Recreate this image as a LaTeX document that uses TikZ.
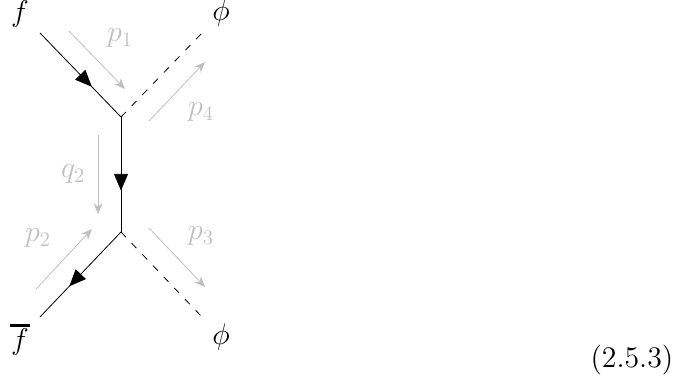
\RequirePackage{fix-cm}
\documentclass[tikz,border=0pt]{standalone}
\usepackage{amsmath}
\usetikzlibrary{decorations.markings,arrows.meta}
\DeclareMathSizes{22.5}{22.5}{15.5}{11}
\font\eqfont=cmr12 at 22.4pt
\tikzset{
 fermion/.style={draw=black,line width=0.6pt,postaction={decorate},decoration={markings,mark=at position 0.64 with {\arrow{Triangle[length=12.5pt,width=10.5pt]}}}},
 scalar/.style={draw=black,line width=0.6pt,dash pattern=on 5.2pt off 6.4pt},
 mom/.style={draw=black!25,line width=0.6pt,-{Stealth[length=8pt,width=6.5pt,inset=2.5pt]}},
 lab/.style={inner sep=0pt,font=\fontsize{22.5}{26}\selectfont},
 glab/.style={inner sep=0pt,font=\fontsize{22.5}{26}\selectfont,text=black!25}
}
\begin{document}
\begin{tikzpicture}[x=0.75pt,y=-0.75pt]
\useasboundingbox (0,0) rectangle (690,382);
\coordinate (fa) at (40,33);
\coordinate (v1) at (121,117);
\coordinate (v2) at (121,232);
\coordinate (fb) at (40,317);
\coordinate (pa) at (202,33);
\coordinate (pb) at (202,317);
\draw[fermion] (fa) -- (v1);
\draw[fermion] (v1) -- (v2);
\draw[fermion] (v2) -- (fb);
\draw[scalar] (v1) -- (pa);
\draw[scalar] (v2) -- (pb);
\coordinate (m1a) at (69,31); \coordinate (m1b) at (125,89);
\coordinate (m4a) at (149,121); \coordinate (m4b) at (205,62);
\coordinate (m2a) at (36,289); \coordinate (m2b) at (92,229);
\coordinate (m3a) at (149,228); \coordinate (m3b) at (205,287);
\coordinate (qa) at (98,135); \coordinate (qb) at (98,214);
\draw[mom] (m1a) -- (m1b);
\draw[mom] (m4a) -- (m4b);
\draw[mom] (m2a) -- (m2b);
\draw[mom] (m3a) -- (m3b);
\draw[mom] (qa) -- (qb);
\node[lab] (nf) at (20,14) {$f$};
\node[lab] (nphi1) at (221,13) {$\phi$};
\node[lab] (nfb) at (20,340) {\vbox{\hrule height 2.2pt\kern 1.5pt\hbox to 15pt{\hss$f$\hss}}};
\node[lab] (nphi2) at (221,337) {$\phi$};
\node[glab] (n1) at (120,38) {$p_1$};
\node[glab] (n4) at (201,112) {$p_4$};
\node[glab] (n2) at (38,238) {$p_2$};
\node[glab] (n3) at (201,236) {$p_3$};
\node[glab] (nq) at (73,174) {$q_2$};
\node[inner sep=0pt] (eq) at (632,360) {\eqfont (2.5.3)};
\end{tikzpicture}
\end{document}
